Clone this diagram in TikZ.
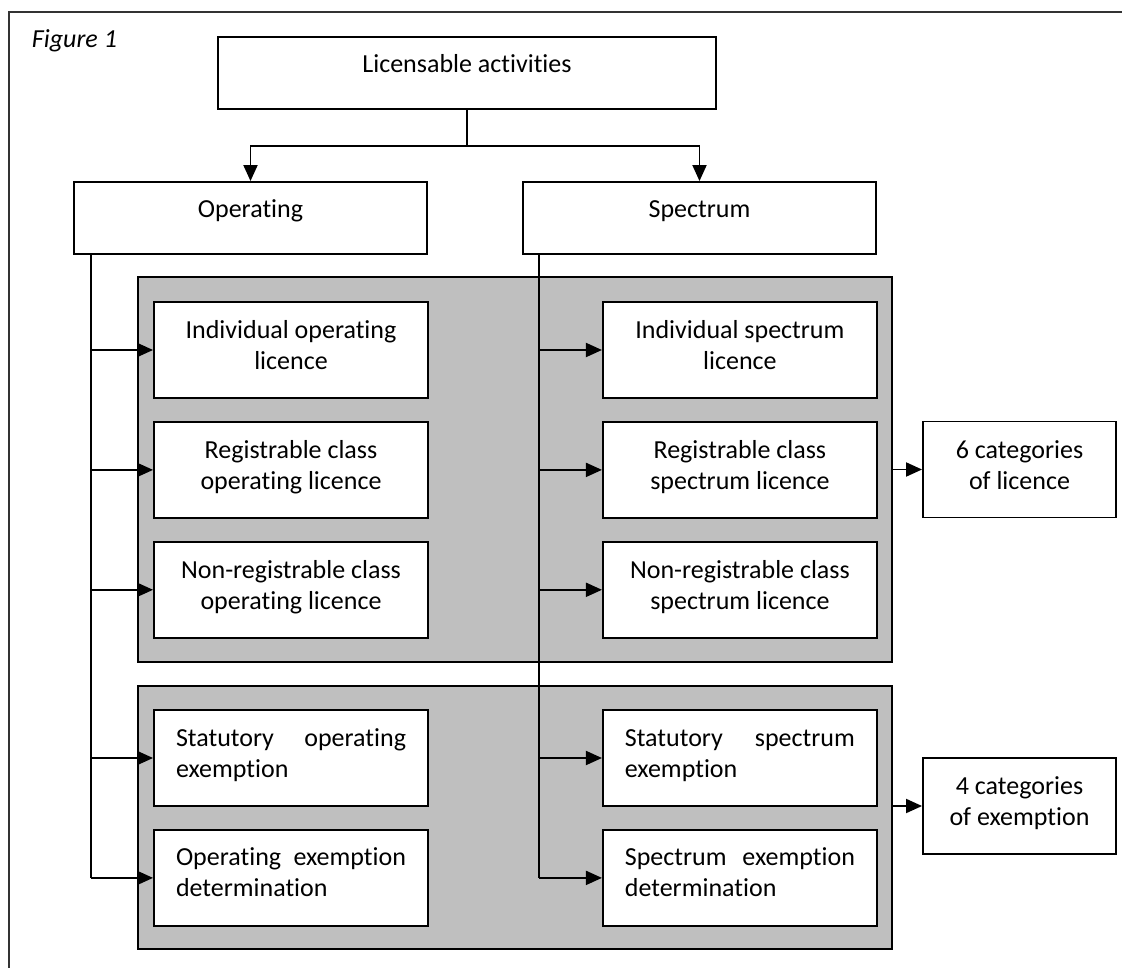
\documentclass[tikz,border=0pt]{standalone}
\usepackage{fontspec}
\setmainfont{Carlito}[Ligatures=NoCommon]
\usetikzlibrary{arrows.meta,positioning}
\definecolor{panelgray}{RGB}{191,191,191}

\begin{document}
\begin{tikzpicture}[->,>={Triangle[length=16pt,width=14pt]},x=1pt,y=-1pt,
    line width=1.9pt,node distance=22pt,font=\fontsize{26}{31}\selectfont,
    box/.style={draw,fill=white,minimum width=274pt,minimum height=96pt,align=center,text height=50pt,text depth=11pt},
    just box/.style={box,text width=230pt,align=justify,text height=19pt,text depth=43pt},
    top box/.style={draw,fill=white,minimum height=72pt,text height=19pt,text depth=19pt},
    cat box/.style={box,minimum width=193pt},
    panel/.style={draw,fill=panelgray,minimum width=754pt},
    trunk/.style={-,line width=1.5pt}]

\useasboundingbox (0,0) rectangle (1122,968);
\draw[-,line width=1.3pt,black!80] (9,990) -- (9,12) -- (1140,12);
\node[anchor=base west,inner sep=0pt] (fig) at (31,48) {\itshape Figure 1};

\node[top box,minimum width=498pt] (la) at (467,73) {Licensable activities};
\node[top box,minimum width=353pt] (op) at (250.5,218) {Operating};
\node[top box,minimum width=353pt] (sp) at (699.5,218) {Spectrum};

% licences
\node[panel,minimum height=385pt] (pl) at (515,469.5) {};
\node[box] (iol) at (291,350) {Individual operating\\licence};
\node[box,below=of iol] (rol) {Registrable class\\operating licence};
\node[box,below=of rol] (nol) {Non-registrable class\\operating licence};
\node[box,right=173pt of iol] (isl) {Individual spectrum\\licence};
\node[box,below=of isl] (rsl) {Registrable class\\spectrum licence};
\node[box,below=of rsl] (nsl) {Non-registrable class\\spectrum licence};
\node[cat box] (cl) at (1019.5,469.5) {6 categories\\of licence};

% exemptions
\node[panel,minimum height=263pt] (pe) at (515,817.5) {};
\node[just box] (soe) at (291,758) {Statutory operating exemption};
\node[just box,below=of soe] (oed) {Operating exemption determination};
\node[just box,right=173pt of soe] (sse) {Statutory spectrum exemption};
\node[just box,below=of sse] (sed) {Spectrum exemption determination};
\node[cat box] (ce) at (1019.5,806) {4 categories\\of exemption};

\draw[-] (la.south) -- ++(0,36) coordinate (jn);
\draw (jn) -| (op.north);
\draw (jn) -| (sp.north);

\coordinate (ot) at ([xshift=18pt]op.south west);
\coordinate (st) at ([xshift=17pt]sp.south west);
\draw[trunk] (ot) -- (ot |- oed.west);
\draw[trunk] (st) -- (st |- sed.west);

\path (ot |- iol.west) edge (iol.west)
      (ot |- rol.west) edge (rol.west)
      (ot |- nol.west) edge (nol.west)
      (ot |- soe.west) edge (soe.west)
      (ot |- oed.west) edge (oed.west)
      (st |- isl.west) edge (isl.west)
      (st |- rsl.west) edge (rsl.west)
      (st |- nsl.west) edge (nsl.west)
      (st |- sse.west) edge (sse.west)
      (st |- sed.west) edge (sed.west);
\path (pl.east) edge (cl.west)
      (pe.east |- ce.west) edge (ce.west);
\end{tikzpicture}
\end{document}
